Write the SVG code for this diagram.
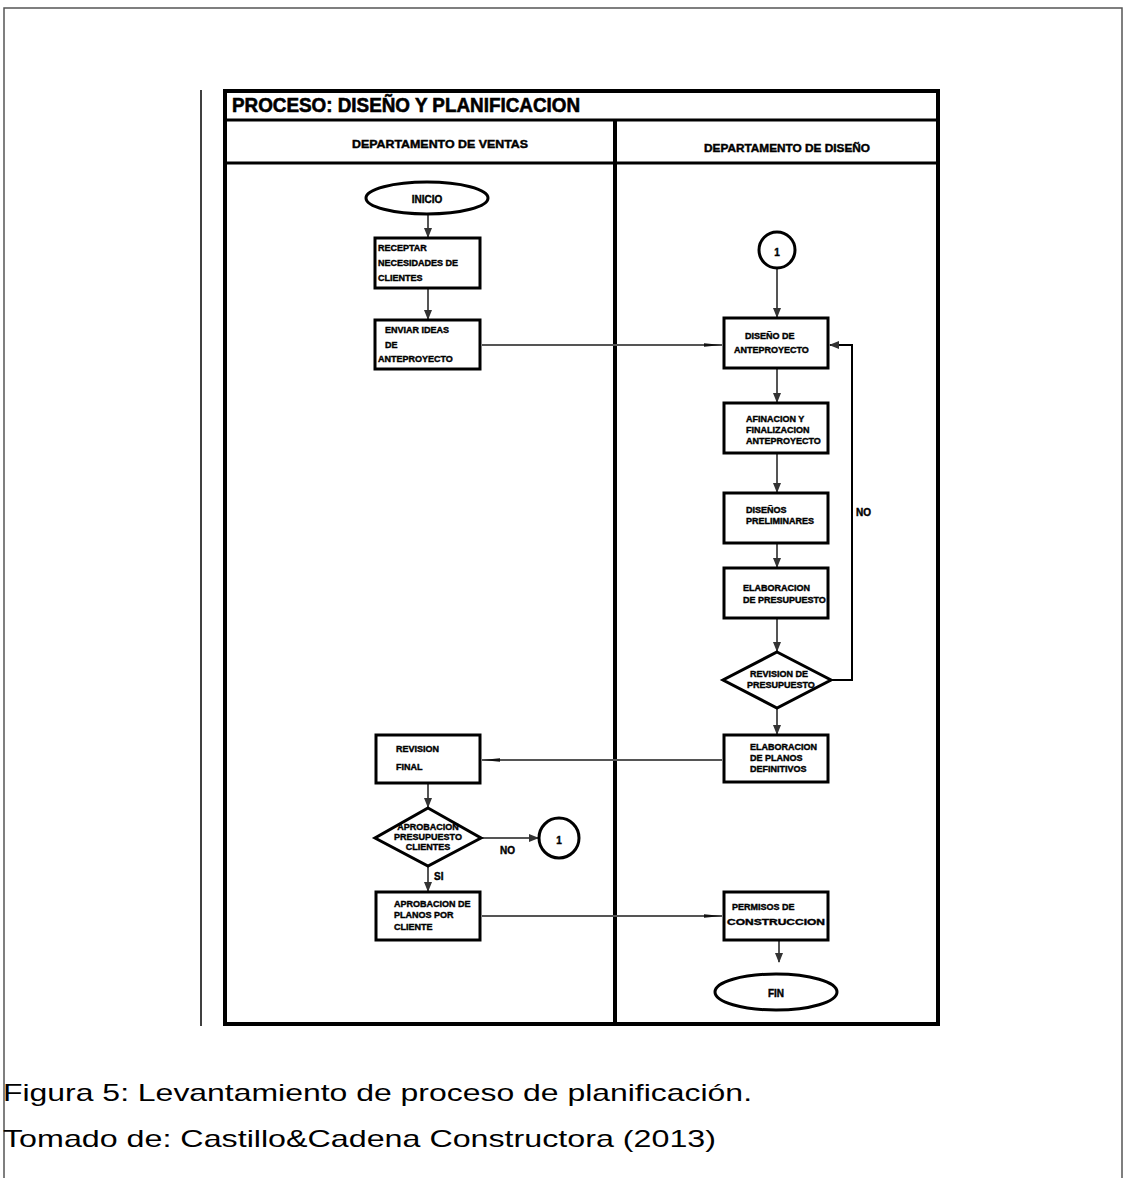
<svg xmlns="http://www.w3.org/2000/svg" width="1126" height="1178" viewBox="0 0 1126 1178">
<defs>
<style>
.box{fill:#fff;stroke:#000;stroke-width:3}
.t{font-family:"Liberation Sans",Arial,sans-serif;font-weight:bold;font-size:9px;fill:#000;stroke:#000;stroke-width:0.4}
.h{font-family:"Liberation Sans",Arial,sans-serif;font-weight:bold;font-size:10px;fill:#000;stroke:#000;stroke-width:0.4}
.c{stroke:#555;stroke-width:2;fill:none}
.cap{font-family:"Liberation Sans",Arial,sans-serif;font-size:24px;fill:#000}
</style>
<marker id="ah" viewBox="0 0 10 10" refX="9" refY="5" markerWidth="5" markerHeight="5" orient="auto"><path d="M0,1 L10,5 L0,9 z" fill="#333"/></marker>
<marker id="ahl" viewBox="0 0 30 10" refX="30" refY="5" markerWidth="15" markerHeight="3" orient="auto"><path d="M0,2 L30,5 L0,8 z" fill="#111"/></marker>
</defs>
<rect width="1126" height="1178" fill="#fff"/>
<path d="M4,1178 V8 H1122 V1178" fill="none" stroke="#555" stroke-width="1.5"/>
<line x1="201" y1="90" x2="201" y2="1026" stroke="#000" stroke-width="1.5"/>
<g id="frame">
<rect x="225" y="91" width="713" height="933" fill="none" stroke="#000" stroke-width="4"/>
<line x1="225" y1="120" x2="938" y2="120" stroke="#000" stroke-width="3"/>
<line x1="225" y1="163" x2="938" y2="163" stroke="#000" stroke-width="3"/>
<line x1="615" y1="120" x2="615" y2="1024" stroke="#000" stroke-width="4"/>
<text x="232" y="112" font-family="Liberation Sans,Arial,sans-serif" font-weight="bold" font-size="20" stroke="#000" stroke-width="0.6" textLength="348" lengthAdjust="spacingAndGlyphs">PROCESO: DISEÑO Y PLANIFICACION</text>
<text class="h" x="352" y="148" textLength="176" lengthAdjust="spacingAndGlyphs">DEPARTAMENTO DE VENTAS</text>
<text class="h" x="704" y="152" textLength="166" lengthAdjust="spacingAndGlyphs">DEPARTAMENTO DE DISEÑO</text>
</g>
<g id="connectors">
<line class="c" x1="428" y1="214" x2="428" y2="237" marker-end="url(#ah)"/>
<line class="c" x1="428" y1="288" x2="428" y2="319" marker-end="url(#ah)"/>
<line class="c" x1="482" y1="345" x2="722" y2="345" marker-end="url(#ahl)"/>
<line class="c" x1="777" y1="268" x2="777" y2="317" marker-end="url(#ah)"/>
<line class="c" x1="777" y1="368" x2="777" y2="402" marker-end="url(#ah)"/>
<line class="c" x1="777" y1="453" x2="777" y2="492" marker-end="url(#ah)"/>
<line class="c" x1="777" y1="543" x2="777" y2="567" marker-end="url(#ah)"/>
<line class="c" x1="777" y1="618" x2="777" y2="651" marker-end="url(#ah)"/>
<polyline points="831,680 852,680 852,345 830,345" fill="none" stroke="#000" stroke-width="2" marker-end="url(#ah)"/>
<line class="c" x1="777" y1="708" x2="777" y2="734" marker-end="url(#ah)"/>
<line class="c" x1="722" y1="760" x2="482" y2="760" marker-end="url(#ahl)"/>
<line class="c" x1="428" y1="783" x2="428" y2="807" marker-end="url(#ah)"/>
<line class="c" x1="481" y1="838" x2="538" y2="838" marker-end="url(#ah)"/>
<line class="c" x1="428" y1="866" x2="428" y2="891" marker-end="url(#ah)"/>
<line class="c" x1="482" y1="916" x2="722" y2="916" marker-end="url(#ahl)"/>
<line class="c" x1="779" y1="940" x2="779" y2="962" marker-end="url(#ah)"/>
<text class="h" x="856" y="516" font-size="12">NO</text>
<text class="h" x="500" y="854" font-size="12">NO</text>
<text class="h" x="434" y="880" font-size="12">SI</text>
</g>
<g id="inicio">
<ellipse class="box" cx="427" cy="198" rx="61" ry="16"/>
<text class="h" x="427" y="203" text-anchor="middle" font-size="12">INICIO</text>
</g>
<g id="receptar">
<rect class="box" x="375" y="238" width="105" height="50"/>
<text class="t" x="378" y="251">RECEPTAR</text>
<text class="t" x="378" y="266">NECESIDADES DE</text>
<text class="t" x="378" y="281">CLIENTES</text>
</g>
<g id="enviar">
<rect class="box" x="375" y="320" width="105" height="49"/>
<text class="t" x="385" y="333">ENVIAR IDEAS</text>
<text class="t" x="385" y="348">DE</text>
<text class="t" x="378" y="362">ANTEPROYECTO</text>
</g>
<g id="conector1a">
<circle cx="777" cy="250" r="18" fill="#fff" stroke="#000" stroke-width="3"/>
<text class="h" x="777" y="256" text-anchor="middle" font-size="15">1</text>
</g>
<g id="diseno">
<rect class="box" x="724" y="318" width="104" height="50"/>
<text class="t" x="745" y="339" font-size="8">DISEÑO DE</text>
<text class="t" x="734" y="353" font-size="8">ANTEPROYECTO</text>
</g>
<g id="afinacion">
<rect class="box" x="724" y="403" width="104" height="50"/>
<text class="t" x="746" y="422" font-size="7">AFINACION Y</text>
<text class="t" x="746" y="433" font-size="7">FINALIZACION</text>
<text class="t" x="746" y="444" font-size="7">ANTEPROYECTO</text>
</g>
<g id="preliminares">
<rect class="box" x="724" y="493" width="104" height="50"/>
<text class="t" x="746" y="513" font-size="7">DISEÑOS</text>
<text class="t" x="746" y="524" font-size="7">PRELIMINARES</text>
</g>
<g id="presupuesto">
<rect class="box" x="724" y="568" width="104" height="50"/>
<text class="t" x="743" y="591" font-size="7">ELABORACION</text>
<text class="t" x="743" y="603" font-size="7">DE PRESUPUESTO</text>
</g>
<g id="revision-presupuesto">
<polygon class="box" points="777,652 831,680 777,708 723,680"/>
<text class="t" x="750" y="677" font-size="6.5">REVISION DE</text>
<text class="t" x="747" y="688" font-size="6.5">PRESUPUESTO</text>
</g>
<g id="planos">
<rect class="box" x="724" y="735" width="104" height="47"/>
<text class="t" x="750" y="750" font-size="7">ELABORACION</text>
<text class="t" x="750" y="761" font-size="7">DE PLANOS</text>
<text class="t" x="750" y="772" font-size="7">DEFINITIVOS</text>
</g>
<g id="revision-final">
<rect class="box" x="376" y="735" width="104" height="48"/>
<text class="t" x="396" y="752" font-size="11">REVISION</text>
<text class="t" x="396" y="770" font-size="11">FINAL</text>
</g>
<g id="aprobacion">
<polygon class="box" points="428,808 481,838 428,866 375,838"/>
<text class="t" x="428" y="830" font-size="5.5" text-anchor="middle">APROBACION</text>
<text class="t" x="428" y="840" font-size="5.5" text-anchor="middle">PRESUPUESTO</text>
<text class="t" x="428" y="850" font-size="5.5" text-anchor="middle">CLIENTES</text>
</g>
<g id="conector1b">
<circle cx="559" cy="838" r="20" fill="#fff" stroke="#000" stroke-width="3"/>
<text class="h" x="559" y="844" text-anchor="middle" font-size="15">1</text>
</g>
<g id="aprobacion-planos">
<rect class="box" x="376" y="892" width="104" height="48"/>
<text class="t" x="394" y="907" font-size="7">APROBACION DE</text>
<text class="t" x="394" y="918" font-size="7">PLANOS POR</text>
<text class="t" x="394" y="930" font-size="7">CLIENTE</text>
</g>
<g id="permisos">
<rect class="box" x="724" y="892" width="104" height="48"/>
<text class="t" x="732" y="910" font-size="8">PERMISOS DE</text>
<text class="t" x="727" y="925" font-size="8" textLength="98" lengthAdjust="spacingAndGlyphs">CONSTRUCCION</text>
</g>
<g id="fin">
<ellipse class="box" cx="776" cy="992" rx="61" ry="18"/>
<text class="h" x="776" y="997" text-anchor="middle" font-size="12">FIN</text>
</g>
<text class="cap" x="3" y="1101" font-size="27" textLength="749" lengthAdjust="spacingAndGlyphs">Figura 5: Levantamiento de proceso de planificación.</text>
<text class="cap" x="3" y="1147" font-size="27" textLength="713" lengthAdjust="spacingAndGlyphs">Tomado de: Castillo&amp;Cadena Constructora (2013)</text>
</svg>
